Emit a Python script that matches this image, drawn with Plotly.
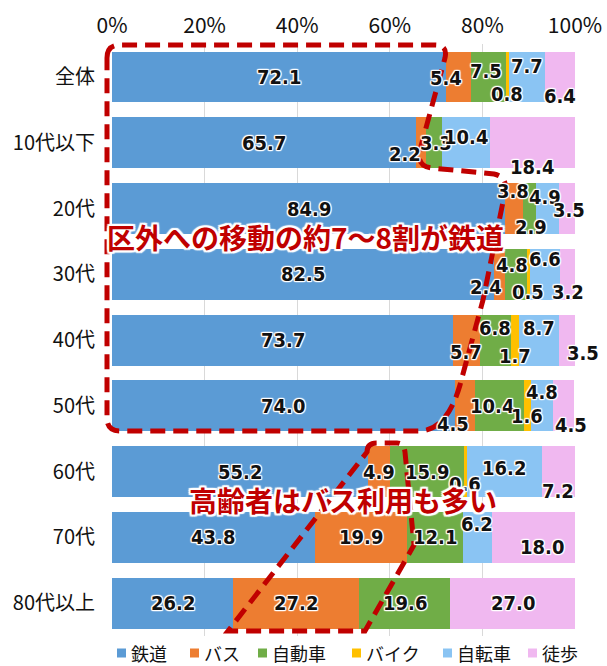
import plotly.graph_objects as go

categories = ["全体", "10代以下", "20代", "30代", "40代", "50代", "60代", "70代", "80代以上"]
series_names = ["鉄道", "バス", "自動車", "バイク", "自転車", "徒歩"]
rail = [72.1, 65.7, 84.9, 82.5, 73.7, 74.0, 55.2, 43.8, 26.2]
bus = [5.4, 2.2, 3.8, 2.4, 5.7, 4.5, 4.9, 19.9, 27.2]
car = [7.5, 3.3, 2.9, 4.8, 6.8, 10.4, 15.9, 12.1, 19.6]
bike = [0.8, 0, 0, 0.5, 1.7, 1.6, 0.6, 0, 0]
bicycle = [7.7, 10.4, 4.9, 6.6, 8.7, 4.8, 16.2, 6.2, 0]
walk = [6.4, 18.4, 3.5, 3.2, 3.5, 4.5, 7.2, 18.0, 27.0]
tick_vals = [0, 20, 40, 60, 80, 100]
tick_text = ["0%", "20%", "40%", "60%", "80%", "100%"]

series = [rail, bus, car, bike, bicycle, walk]
colors = ["#5B9BD5", "#ED7D31", "#70AD47", "#FFC000", "#8AC4F3", "#F0B8F0"]

# label pixel offsets (dx, dy) keyed by (series, row)
label_offsets = {
    (1, 0): (-12, 1), (2, 0): (-2, -6), (3, 0): (0, 17), (4, 0): (0, -11), (5, 0): (0, 19),
    (1, 1): (-16, 11), (2, 1): (2, 0), (4, 1): (0, -6), (5, 1): (0, 24),
    (1, 2): (-1, -18), (2, 2): (2, 18), (4, 2): (-2, -12), (5, 2): (2, 1),
    (1, 3): (-14, 13), (2, 3): (-4, -9), (3, 3): (0, 18), (4, 3): (0, -15), (5, 3): (0, 18),
    (1, 4): (0, 12), (2, 4): (0, -12), (3, 4): (0, 16), (4, 4): (0, -12), (5, 4): (16, 13),
    (1, 5): (-12, 18), (2, 5): (-8, 0), (3, 5): (0, 10), (4, 5): (0, -14), (5, 5): (7, 19),
    (1, 6): (0, 0), (2, 6): (0, 0), (3, 6): (0, 12), (4, 6): (0, -4), (5, 6): (0, 19),
    (4, 7): (0, -13), (5, 7): (9, 10),
}

fig = go.Figure()
for name, vals, col in zip(series_names, series, colors):
    fig.add_trace(go.Bar(
        y=categories, x=vals, name=name, orientation="h",
        marker=dict(color=col, line=dict(width=0)),
        hoverinfo="skip", showlegend=False,
    ))

halo = ("1px 1px 1px #fff, -1px -1px 1px #fff, 1px -1px 1px #fff, -1px 1px 1px #fff, "
        "0 1px 1px #fff, 0 -1px 1px #fff, 1px 0 1px #fff, -1px 0 1px #fff")
label_font = dict(family="DejaVu Sans Condensed, DejaVu Sans, sans-serif",
                  size=20, color="#111", weight="bold", shadow=halo)

annotations = []
for r, cat in enumerate(categories):
    cum = 0.0
    for s, vals in enumerate(series):
        v = vals[r]
        if v > 0:
            dx, dy = label_offsets.get((s, r), (0, 0))
            annotations.append(dict(
                x=cum + v / 2, y=cat, xref="x", yref="y", text=f"{v:.1f}",
                showarrow=False, xshift=dx, yshift=-dy, font=label_font,
            ))
        cum += v

# plot area in pixels
L, R, T, B = 112, 32, 44, 30
W, H = 607, 666
PW, PH = W - L - R, H - T - B


def px(xp, yp):
    return (xp - L) / PW, (H - B - yp) / PH


def path(cmds):
    out = []
    for c in cmds:
        letter, pts = c[0], c[1:]
        coords = []
        for i in range(0, len(pts), 2):
            X, Y = px(pts[i], pts[i + 1])
            coords.append(f"{X:.4f},{Y:.4f}")
        out.append(letter + " ".join(coords))
    return " ".join(out)


shape1 = path([
    ("M", 107, 58), ("Q", 107, 45, 120, 45), ("L", 435, 45), ("Q", 448, 45, 445, 58),
    ("L", 420, 150), ("Q", 416, 166, 432, 168), ("L", 494, 174), ("Q", 508, 177, 505, 192),
    ("L", 483, 300), ("L", 460, 385), ("Q", 447, 430, 420, 431), ("L", 120, 431),
    ("Q", 107, 431, 107, 418),
]) + " Z"
shape2 = path([
    ("M", 367, 452), ("Q", 367, 443, 377, 443), ("L", 397, 443), ("Q", 404, 443, 405, 452),
    ("L", 414, 545), ("L", 365, 631), ("L", 228, 631),
]) + " Z"

dash_line = dict(color="#C00000", width=5, dash="15px,8px")
shapes = [
    dict(type="path", path=shape1, xref="paper", yref="paper", line=dash_line, layer="above"),
    dict(type="path", path=shape2, xref="paper", yref="paper", line=dash_line, layer="above"),
]

big_halo = ("2px 2px 1px #fff, -2px -2px 1px #fff, 2px -2px 1px #fff, -2px 2px 1px #fff, "
            "0 2px 1px #fff, 0 -2px 1px #fff, 2px 0 1px #fff, -2px 0 1px #fff")
callout_font = dict(family="Noto Sans CJK JP", size=28, color="#C00000", weight="bold", shadow=big_halo)
x1, y1 = px(305, 237)
x2, y2 = px(343, 500)
annotations.append(dict(x=x1, y=y1, xref="paper", yref="paper", text="区外への移動の約7～8割が鉄道",
                        showarrow=False, font=callout_font, xanchor="center", yanchor="middle"))
annotations.append(dict(x=x2, y=y2, xref="paper", yref="paper", text="高齢者はバス利用も多い",
                        showarrow=False, font=callout_font, xanchor="center", yanchor="middle"))

# manual legend (square + label) along the bottom
legend_x = [117, 190, 258, 352, 443, 528]
legend_y = 653
for name, col, lxp in zip(series_names, colors, legend_x):
    x0, y0 = px(lxp, legend_y - 4.5)
    x1s, y1s = px(lxp + 9, legend_y + 4.5)
    shapes.append(dict(type="rect", xref="paper", yref="paper", x0=x0, x1=x1s, y0=y1s, y1=y0,
                       fillcolor=col, line=dict(width=0)))
    tx, ty = px(lxp + 12, legend_y)
    annotations.append(dict(x=tx, y=ty, xref="paper", yref="paper", text=name, showarrow=False,
                            xanchor="left", yanchor="middle",
                            font=dict(family="Noto Sans CJK JP", size=18, color="#111")))

fig.update_layout(
    width=W, height=H,
    margin=dict(l=L, r=R, t=T, b=B, autoexpand=False),
    barmode="stack", bargap=0.225,
    plot_bgcolor="white", paper_bgcolor="white",
    font=dict(family="Noto Sans CJK JP", color="#111"),
    showlegend=False,
    xaxis=dict(range=[0, 100], side="top", tickvals=tick_vals, ticktext=tick_text,
               showgrid=True, gridcolor="#D9D9D9", gridwidth=1, zeroline=False,
               showline=False, ticks="", ticklabelstandoff=6,
               tickfont=dict(size=21, color="#111")),
    yaxis=dict(type="category", autorange="reversed", showgrid=False, zeroline=False,
               ticks="", ticklabelstandoff=16, tickfont=dict(size=20, color="#111")),
    annotations=annotations,
    shapes=shapes,
)

fig.write_html("out.html")
